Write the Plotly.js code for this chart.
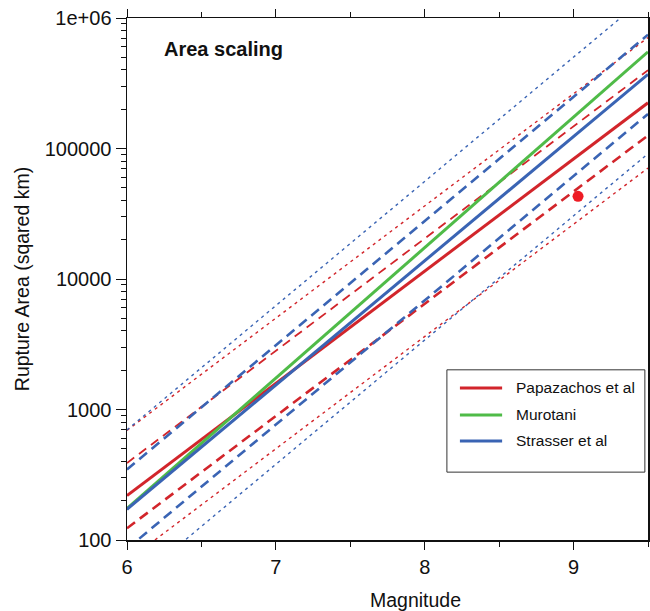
<!DOCTYPE html>
<html>
<head>
<meta charset="utf-8">
<script src="https://cdn.plot.ly/plotly-3.0.1.min.js"></script>
<style>html,body{margin:0;padding:0;background:#fff;}#chart{width:650px;height:611px;}</style>
</head>
<body>
<div id="chart"></div>
<script>
// Magnitudes at which the scaling lines were read (left and right edges)
const mags = [6, 9.5];

// Papazachos et al (area, km^2)
const papaMean   = [219, 224000];
const papaDashHi = [389, 398000];
const papaDashLo = [123, 126000];
const papaDotHi  = [692, 708000];
const papaDotLo  = [69, 70800];

// Murotani
const muroMean = [174, 550000];

// Strasser et al
const strMean   = [172, 370000];
const strDashHi = [347, 745000];
const strDashLo = [85.5, 184000];
const strDotHi  = [698, 1500000];
const strDotLo  = [42.5, 91200];

// Observed event
const obsMag  = [9.03];
const obsArea = [43000];

// Legend entries
const legendNames = ['Papazachos et al', 'Murotani', 'Strasser et al'];

// Axis ticks
const yTickVals = [100, 1000, 10000, 100000, 1000000];
const yTickText = ['100', '1000', '10000', '100000', '1e+06'];
const xTickVals = [6, 7, 8, 9];
const xTickText = ['6', '7', '8', '9'];

const RED = '#d2252b', GREEN = '#4fbb48', BLUE = '#3a64b4';
const legendColors = [RED, GREEN, BLUE];
const FONT = 'Liberation Sans, Arial, Helvetica, sans-serif';

function ln(y, color, width, dash) {
  return {x: mags, y: y, type: 'scatter', mode: 'lines', showlegend: false,
    line: {color: color, width: width, dash: dash}, hoverinfo: 'skip'};
}
const DOT = '3px,4px', DASH = '10px,6px';

const traces = [
  ln(papaDotHi, RED, 1.4, DOT), ln(papaDotLo, RED, 1.4, DOT),
  ln(strDotHi, BLUE, 1.4, DOT), ln(strDotLo, BLUE, 1.4, DOT),
  ln(papaDashHi, RED, 1.8, '9px,6px'), ln(papaDashLo, RED, 2.6, DASH),
  ln(strDashHi, BLUE, 2.6, DASH), ln(strDashLo, BLUE, 2.6, DASH),
  ln(papaMean, RED, 3, 'solid'),
  ln(muroMean, GREEN, 3, 'solid'),
  ln(strMean, BLUE, 3, 'solid'),
  {x: obsMag, y: obsArea, type: 'scatter', mode: 'markers', showlegend: false,
   marker: {color: '#ee1c24', size: 11}, hoverinfo: 'skip'}
];

// Manual legend (box, line samples, labels) in paper coordinates
const legRowY = [0.2912, 0.2395, 0.1897];
const shapes = [{type: 'rect', xref: 'paper', yref: 'paper', x0: 0.614, x1: 0.994, y0: 0.13, y1: 0.326,
    line: {color: '#333', width: 1}, fillcolor: 'rgba(0,0,0,0)', layer: 'above'}];
const annotations = [
  {xref: 'paper', yref: 'paper', x: 0.067, y: 0.94, xanchor: 'left', yanchor: 'middle',
   text: '<b>Area scaling</b>', showarrow: false, font: {family: FONT, size: 20, color: '#111'}},
  {xref: 'paper', yref: 'paper', x: 0.553, y: -0.115, xanchor: 'center', yanchor: 'middle',
   text: 'Magnitude', showarrow: false, font: {family: FONT, size: 19.5, color: '#111'}}
];
legendNames.forEach((nm, i) => {
  shapes.push({type: 'line', xref: 'paper', yref: 'paper', x0: 0.639, x1: 0.72,
    y0: legRowY[i], y1: legRowY[i], line: {color: legendColors[i], width: 3}, layer: 'above'});
  annotations.push({xref: 'paper', yref: 'paper', x: 0.743, y: legRowY[i], xanchor: 'left', yanchor: 'middle',
    text: nm, showarrow: false, font: {family: FONT, size: 15.5, color: '#111'}});
});

const layout = {
  width: 650, height: 611,
  margin: {l: 127, r: 2, t: 18, b: 71},
  paper_bgcolor: '#fff', plot_bgcolor: '#fff',
  font: {family: FONT, size: 20, color: '#111'},
  showlegend: false,
  xaxis: {range: [6, 9.5], tickmode: 'array', tickvals: xTickVals, ticktext: xTickText,
    ticks: 'outside', ticklen: 8, tickwidth: 1, tickcolor: '#111',
    showline: true, linecolor: '#111', linewidth: 1.5, mirror: 'ticks',
    showgrid: false, zeroline: false,
    minor: {dtick: 0.5, ticks: 'outside', ticklen: 5, tickwidth: 1, tickcolor: '#111', showgrid: false},
    tickfont: {family: FONT, size: 20}},
  yaxis: {type: 'log', range: [2, 6], tickmode: 'array', tickvals: yTickVals, ticktext: yTickText,
    ticks: 'outside', ticklen: 10, tickwidth: 1, tickcolor: '#111',
    showline: true, linecolor: '#111', linewidth: 1.5, mirror: true,
    showgrid: false, zeroline: false,
    minor: {dtick: 'D1', ticks: 'outside', ticklen: 5, tickwidth: 1, tickcolor: '#111', showgrid: false},
    title: {text: 'Rupture Area (sqared km)', font: {family: FONT, size: 19.5}, standoff: 10},
    tickfont: {family: FONT, size: 20}},
  shapes: shapes,
  annotations: annotations
};

Plotly.newPlot('chart', traces, layout, {staticPlot: true, displayModeBar: false});
</script>
</body>
</html>
